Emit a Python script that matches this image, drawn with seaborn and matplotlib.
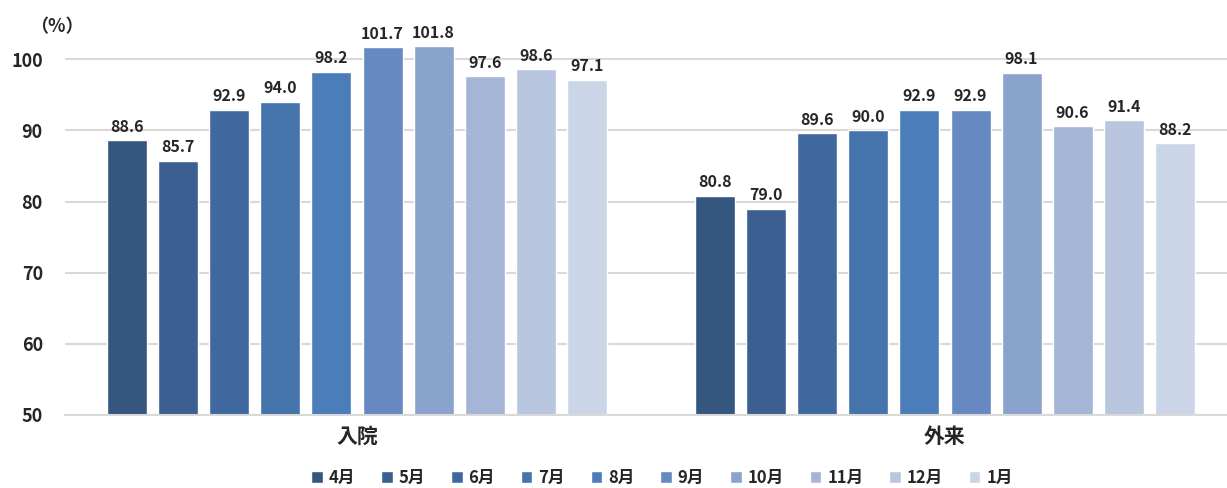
import pandas as pd
import matplotlib.pyplot as plt
import seaborn as sns

# data
groups = ["入院", "外来"]
months = ["4月", "5月", "6月", "7月", "8月", "9月", "10月", "11月", "12月", "1月"]
inpatient = [88.6, 85.7, 92.9, 94.0, 98.2, 101.7, 101.8, 97.6, 98.6, 97.1]
outpatient = [80.8, 79.0, 89.6, 90.0, 92.9, 92.9, 98.1, 90.6, 91.4, 88.2]
colors = ["#34567F", "#3A5F90", "#3F699E", "#4573AB", "#4A7DB9",
          "#6589C0", "#8AA3CC", "#A4B5D6", "#B9C6E0", "#CBD5E8"]

df = pd.DataFrame({
    "group": [groups[0]] * len(months) + [groups[1]] * len(months),
    "month": months * 2,
    "value": inpatient + outpatient,
})

sns.set_style("white")
plt.rcParams["font.family"] = ["Noto Sans CJK JP", "DejaVu Sans"]
plt.rcParams["font.weight"] = "bold"

fig = plt.figure(figsize=(12.27, 4.88), dpi=100)
ax = fig.add_axes([65 / 1227, 1 - 415 / 488, 1 - 65 / 1227, (415 - 30) / 488])

sns.barplot(data=df, x="group", y="value", hue="month", order=groups,
            hue_order=months, palette=colors, width=0.868, gap=0.216,
            saturation=1, ax=ax, legend=True)

ax.set_ylim(50, 104.1)
ax.set_xlim(-0.4966, 1.4796)
ax.set_yticks([50, 60, 70, 80, 90, 100])
ax.yaxis.grid(True, color="#D9D9D9", linewidth=1.5)
ax.set_axisbelow(True)
for s in ["top", "right", "left"]:
    ax.spines[s].set_visible(False)
ax.spines["bottom"].set_color("#D9D9D9")
ax.spines["bottom"].set_linewidth(1.5)
ax.tick_params(axis="both", length=0)
ax.tick_params(axis="y", labelsize=13, pad=16)
ax.tick_params(axis="x", labelsize=15, pad=8)
for lbl in ax.get_yticklabels() + ax.get_xticklabels():
    lbl.set_fontweight("bold")
ax.set_xlabel("")
ax.set_ylabel("")

for cont in ax.containers:
    ax.bar_label(cont, fmt="%.1f", padding=4, fontsize=11.5, fontweight="bold",
                 clip_on=False)

fig.text(30 / 1227, 1 - 27 / 488, "（%）", fontsize=13, fontweight="bold",
         va="center", ha="left")

ax.legend_.remove()
handles, labels = ax.get_legend_handles_labels()
fig.legend(handles, labels, loc="center", bbox_to_anchor=(662 / 1227, 1 - 478 / 488),
           ncol=10, frameon=False, handlelength=0.7, handleheight=0.7,
           handletextpad=0.35, columnspacing=1.55,
           prop={"weight": "bold", "size": 12})

fig.savefig("out.png", dpi=100)
plt.close(fig)
